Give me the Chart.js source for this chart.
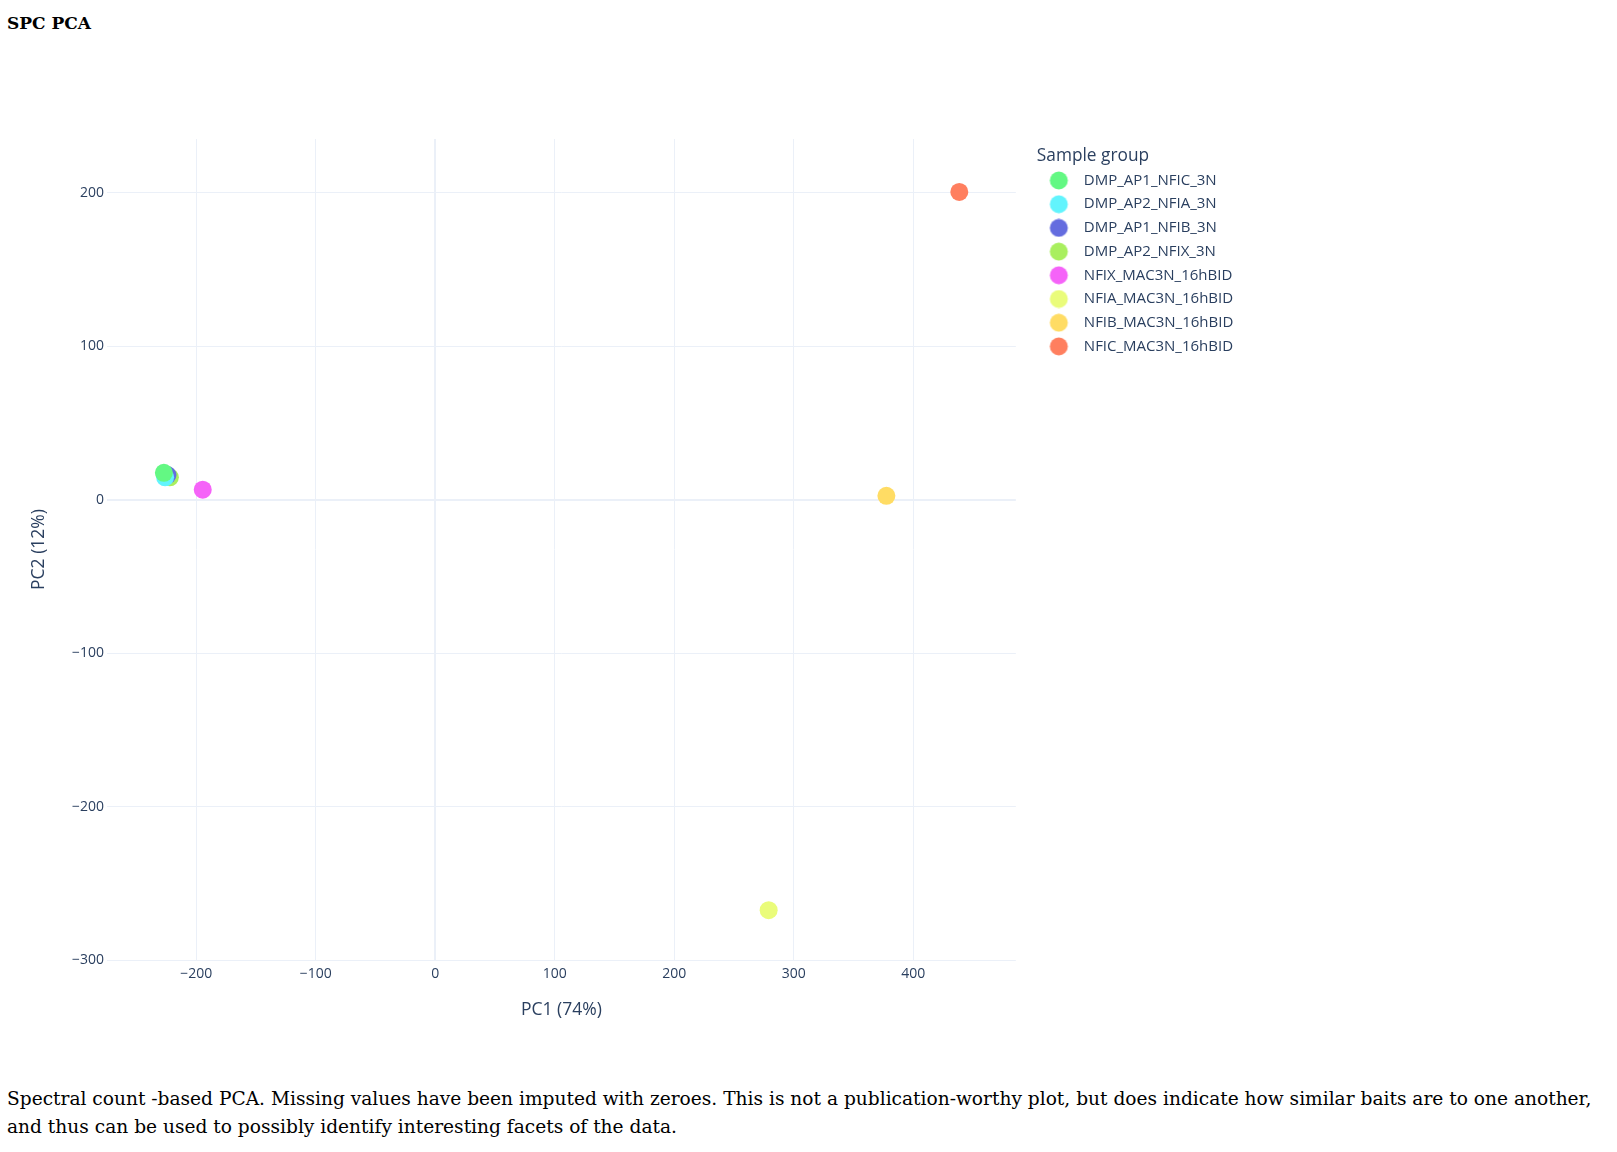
<!DOCTYPE html>
<html>
<head>
<meta charset="utf-8">
<script src="https://cdn.jsdelivr.net/npm/chart.js@4.4.1/dist/chart.umd.min.js"></script>
<style>
  body { margin: 0; background: #fff; width: 1617px; height: 1152px; position: relative; overflow: hidden; }
  #title { position: absolute; left: 7px; top: 13px; font: bold 17px "DejaVu Serif", serif; color: #000; }
  #wrap { position: absolute; left: 0; top: 0; width: 1239px; height: 1030px; }
  #caption { position: absolute; left: 7px; top: 1085px; font: 18.6px "DejaVu Serif", serif; line-height: 28px; color: #000; white-space: nowrap; }
</style>
</head>
<body>
<div id="title">SPC PCA</div>
<div id="wrap"><canvas id="pcaChart"></canvas></div>
<div id="caption">Spectral count -based PCA. Missing values have been imputed with zeroes. This is not a publication-worthy plot, but does indicate how similar baits are to one another,<br>and thus can be used to possibly identify interesting facets of the data.</div>
<script>
// sample groups, in legend order
const groups = ["DMP_AP1_NFIC_3N", "DMP_AP2_NFIA_3N", "DMP_AP1_NFIB_3N", "DMP_AP2_NFIX_3N",
                "NFIX_MAC3N_16hBID", "NFIA_MAC3N_16hBID", "NFIB_MAC3N_16hBID", "NFIC_MAC3N_16hBID"];
const pc1 = [-227, -226, -224, -222, -194.5, 279, 377.5, 438.5];
const pc2 = [17.5, 14.5, 16, 14.5, 6.5, -267.5, 2.5, 200.5];
const colors = ["#63F883", "#62F4FD", "#646CDF", "#A9EF5F", "#F563F8", "#EAFC7A", "#FFDC64", "#FF7F5F"];

const xTicks = [-200, -100, 0, 100, 200, 300, 400];
const yTicks = [-300, -200, -100, 0, 100, 200];

const fontColor = "#2a3f5f";
const gridColor = "#EBF0F8";

// legend marker: a circle sitting a bit left of the icon box centre
function legendIcon(color) {
    const c = document.createElement("canvas");
    c.width = 31;
    c.height = 19;
    const g = c.getContext("2d");
    g.fillStyle = color;
    g.beginPath();
    g.arc(13.4, 9.5, 9, 0, Math.PI * 2);
    g.fill();
    return c;
}
const icons = colors.map(legendIcon);

const datasets = groups.map(function (g, i) {
    return {
        label: g,
        data: [{ x: pc1[i], y: pc2[i] }],
        backgroundColor: colors[i],
        borderColor: colors[i],
        pointRadius: 9,
        pointHoverRadius: 9,
        pointBorderWidth: 0
    };
});

const fmt = function (v) { return String(v).replace("-", "\u2212"); };

new Chart(document.getElementById("pcaChart"), {
    type: "scatter",
    data: { datasets: datasets },
    options: {
        responsive: true,
        maintainAspectRatio: false,
        animation: false,
        layout: { padding: { top: 139, left: 26, bottom: 10, right: 0 } },
        plugins: {
            tooltip: { enabled: false },
            legend: {
                position: "right",
                align: "start",
                title: {
                    display: true,
                    text: "Sample group",
                    position: "start",
                    color: fontColor,
                    font: { family: "Open Sans", size: 17.3, lineHeight: 1 },
                    padding: { top: 8, bottom: 0 }
                },
                labels: {
                    color: fontColor,
                    font: { family: "Open Sans", size: 15 },
                    usePointStyle: true,
                    pointStyleWidth: 30.8,
                    padding: 8.7,
                    generateLabels: function (chart) {
                        const items = Chart.defaults.plugins.legend.labels.generateLabels(chart);
                        items.forEach(function (it) { it.pointStyle = icons[it.datasetIndex]; });
                        return items;
                    }
                }
            }
        },
        scales: {
            x: {
                type: "linear",
                min: -274.6,
                max: 485.8,
                afterFit: function (s) { s.height = 60; },
                afterBuildTicks: function (s) { s.ticks = xTicks.map(function (v) { return { value: v }; }); },
                border: { display: false },
                grid: {
                    color: gridColor,
                    drawTicks: false,
                    lineWidth: function (c) { return c.tick && c.tick.value === 0 ? 2 : 1; }
                },
                ticks: { color: fontColor, font: { family: "Open Sans", size: 14 }, padding: 6, callback: fmt },
                title: {
                    display: true,
                    text: "PC1 (74%)",
                    color: fontColor,
                    font: { family: "Open Sans", size: 17.5, lineHeight: 1 },
                    padding: { top: 0, bottom: 1 }
                }
            },
            y: {
                type: "linear",
                min: -300,
                max: 235,
                afterFit: function (s) { s.width = 81; },
                afterBuildTicks: function (s) { s.ticks = yTicks.map(function (v) { return { value: v }; }); },
                border: { display: false },
                grid: {
                    color: gridColor,
                    drawTicks: false,
                    lineWidth: function (c) { return c.tick && c.tick.value === 0 ? 2 : 1; }
                },
                ticks: { color: fontColor, font: { family: "Open Sans", size: 14 }, padding: 3, callback: fmt },
                title: {
                    display: true,
                    text: "PC2 (12%)",
                    color: fontColor,
                    font: { family: "Open Sans", size: 17.5 },
                    padding: { top: 3, bottom: 0 }
                }
            },
            // empty strip between plot and legend
            gap: {
                type: "linear",
                position: "right",
                afterFit: function (s) { s.width = 21; },
                border: { display: false },
                grid: { display: false },
                ticks: { display: false }
            }
        }
    }
});
</script>
</body>
</html>
